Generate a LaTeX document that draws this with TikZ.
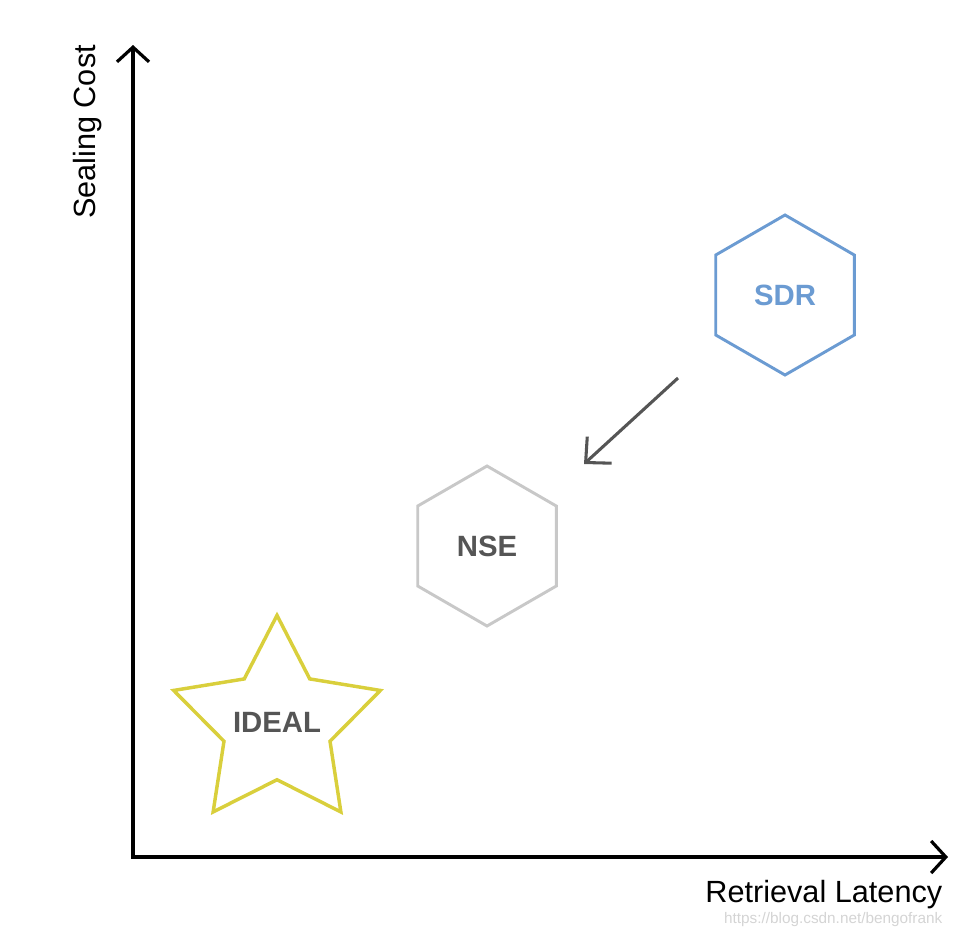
\documentclass[tikz,border=0pt]{standalone}
\usepackage{fontspec}
\setmainfont{Liberation Sans}
\usetikzlibrary{positioning, shapes.geometric, arrows.meta, calc}
\usepackage{xcolor}
\definecolor{sdrblue}{HTML}{6B9BD2}
\definecolor{nsegray}{HTML}{C8C8C8}
\definecolor{idealyellow}{HTML}{D9CF3C}
\definecolor{labelgray}{HTML}{555555}
\definecolor{markgray}{HTML}{D4D4D4}

\begin{document}
\begin{tikzpicture}[x=0.75pt, y=-0.75pt,
    hexa/.style={regular polygon, regular polygon sides=6, shape border rotate=30,
      minimum size=120pt, inner sep=0pt, line width=2.2pt, font=\fontsize{22}{25}\selectfont\bfseries}]
    \useasboundingbox (0,0) rectangle (962,940);
    \coordinate (origin) at (133,857);
    \coordinate (ytip) at (133,45);
    \coordinate (xtip) at (948,857);
    \draw[line width=2.4pt, line join=miter,
      {Straight Barb[length=11pt, width=24pt]}-{Straight Barb[length=11pt, width=24pt]}] (ytip) -- (origin) -- (xtip);
    \node[rotate=90, font=\fontsize{23}{26}\selectfont] (ylabel) at (88,132) {Sealing Cost};
    \node[anchor=east, font=\fontsize{23}{26}\selectfont] (xlabel) at (947,895) {Retrieval Latency};
    \node[anchor=east, text=markgray, font=\fontsize{11.5}{13}\selectfont] (mark) at (947,920) {https://blog.csdn.net/bengofrank};
    \node[hexa, draw=sdrblue, text=sdrblue] (sdr) at (785,295) {SDR};
    \node[hexa, draw=nsegray, text=labelgray] (nse) at (487,546) {NSE};
    \node[star, star points=5, star point ratio=1.95, minimum size=163pt, inner sep=0pt,
      draw=idealyellow, line width=2.6pt] (ideal) at (277,724) {};
    \node[text=labelgray, font=\fontsize{22}{25}\selectfont\bfseries] (ideallabel) at (277,722) {IDEAL};
    \coordinate (movefrom) at (678,378);
    \coordinate (moveto) at (584,464);
    \draw[labelgray, line width=2.3pt, -{Straight Barb[length=14pt, width=27pt]}] (movefrom) -- (moveto);
  \end{tikzpicture}
\end{document}
